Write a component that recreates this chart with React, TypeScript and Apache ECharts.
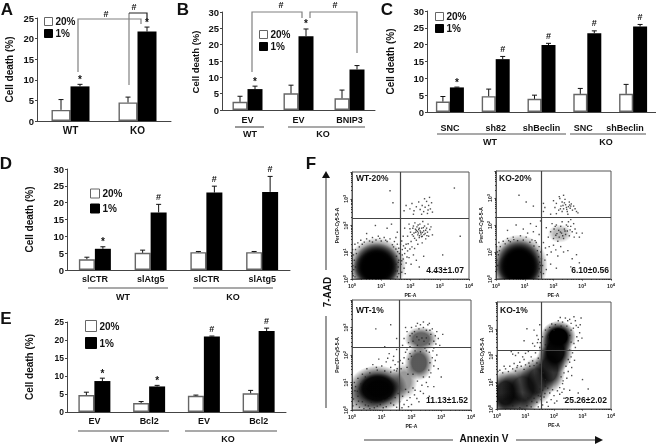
import React, { useEffect, useRef } from "react";
import * as echarts from "echarts";

const FONT = '"Liberation Sans", Arial, sans-serif';
const INK = "#111";

// ---- bar panels: categories, means (%) and upward error amounts ----
const aCategories = ["WT", "KO"];
const aLow = [2.7, 4.5];
const aLowErr = [2.5, 1.3];
const aHigh = [8.4, 21.7];
const aHighErr = [0.5, 1.1];
const aMarks = ["*", "*"];

const bCategories = ["EV", "EV", "BNIP3"];
const bLow = [2.5, 5.1, 3.6];
const bLowErr = [1.7, 2.5, 2.5];
const bHigh = [6.4, 22.6, 12.4];
const bHighErr = [0.9, 2.2, 1.2];
const bMarks = ["*", "*", ""];

const cCategories = ["SNC", "sh82", "shBeclin", "SNC", "shBeclin"];
const cLow = [3.1, 4.7, 3.9, 5.4, 5.4];
const cLowErr = [1.5, 2.1, 1.1, 1.6, 2.8];
const cHigh = [7.3, 15.7, 19.9, 23.4, 25.4];
const cHighErr = [0.1, 0.8, 0.5, 0.7, 0.6];
const cMarks = ["*", "#", "#", "#", "#"];

const dCategories = ["slCTR", "slAtg5", "slCTR", "slAtg5"];
const dLow = [3.2, 5.1, 5.3, 5.3];
const dLowErr = [0.6, 0.8, 0.2, 0.2];
const dHigh = [6.3, 17.1, 23, 23.2];
const dHighErr = [0.6, 2.4, 1.9, 4.6];
const dMarks = ["*", "#", "#", "#"];

const eCategories = ["EV", "Bcl2", "EV", "Bcl2"];
const eLow = [4.7, 2.5, 4.5, 5.2];
const eLowErr = [0.8, 0.4, 0.2, 0.8];
const eHigh = [8.6, 7.1, 21, 22.5];
const eHighErr = [0.8, 0.3, 0.1, 0.8];
const eMarks = ["*", "*", "#", "#"];

// ---- flow panels: log10 intensities ----
const f1Gates = [1.64, 2.28];
const f2Gates = [1.57, 2.3];
const f3Gates = [1.58, 2.28];
const f4Gates = [1.57, 2.2];

// dense regions: [x, y, xRadius, yRadius, density], in decades
const f1Clouds = [[0.85, 0.5, 1.0, 1.05, 0.9], [0.85, 0.55, 0.8, 0.8, 1], [0.8, 0.35, 0.8, 0.7, 1]];
const f2Clouds = [[0.8, 0.5, 1.0, 1.15, 0.9], [0.8, 0.6, 0.8, 0.85, 1], [0.8, 0.35, 0.82, 0.7, 1], [2.22, 1.68, 0.42, 0.34, 0.28]];
const f3Clouds = [[0.86, 0.78, 1.0, 0.85, 0.95], [0.9, 0.78, 0.7, 0.55, 0.9], [0.45, 0.4, 0.75, 0.6, 0.35], [1.75, 1.05, 0.45, 0.65, 0.4], [2.25, 1.72, 0.48, 0.65, 0.65], [2.32, 2.58, 0.55, 0.45, 0.6]];
const f4Clouds = [[0.3, 0.6, 0.6, 0.85, 0.85], [0.9, 0.75, 0.75, 0.9, 0.75], [1.4, 1.05, 0.6, 0.9, 0.75], [1.85, 1.5, 0.55, 0.9, 0.8], [2.05, 2.15, 0.6, 0.8, 0.95], [2.15, 2.7, 0.62, 0.6, 1], [0.6, 0.2, 0.9, 0.45, 0.5]];

const f1Dots = [[1.85,2.75],[1.98,2.62],[2.05,2.82],[2.12,2.55],[2.2,2.7],[2.28,2.88],[2.33,2.6],[2.4,2.75],[2.45,2.52],[2.5,2.68],[2.55,2.9],[2.6,2.58],[2.62,2.75],[2.68,2.62],[2.72,2.85],[2.75,2.5],[2.48,3.0],[2.38,2.42],[2.58,2.45],[2.1,2.42],[2.65,3.05],[1.78,2.55],
[1.8,1.9],[1.9,1.6],[1.95,2.05],[2.0,1.75],[2.02,1.4],[2.08,1.9],[2.1,1.6],[2.15,2.1],[2.18,1.75],[2.2,1.45],[2.22,1.95],[2.25,1.65],[2.28,1.85],[2.3,1.55],[2.32,2.05],[2.35,1.75],[2.38,1.9],[2.4,1.6],[2.42,2.15],[2.45,1.8],[2.48,1.98],[2.5,1.7],[2.52,1.5],[2.55,1.9],[2.58,1.75],[2.6,2.05],[2.62,1.6],[2.66,1.85],[2.7,1.95],[2.25,1.3],[2.05,1.2],[1.85,1.3],[1.75,1.6],[2.4,1.35],[2.75,1.65],[2.3,1.9],[2.36,1.68],[2.44,1.92],[2.2,1.82],[2.27,1.72],[2.33,1.8],[2.41,1.74],[2.12,1.72],[2.17,1.86],[2.52,1.82],[2.24,1.78],[2.31,1.62],[2.38,1.58],[2.46,1.66],[2.14,1.52],[2.06,1.66],[1.98,1.88],[2.1,1.98],[2.26,2.02],[2.56,1.62],
[1.72,1.1],[1.8,0.95],[1.75,0.75],[1.85,0.6],[1.78,0.4],[1.9,1.05],[1.95,0.8],[2.02,0.55],[2.1,0.9],[2.2,0.7],[1.7,0.25],[1.82,0.2],[2.3,0.45],[2.45,0.85],[1.68,0.55],[1.72,0.9],[1.66,1.3],[1.7,1.42],[1.82,1.15],[1.92,1.32],[1.76,1.24],[1.88,0.82],[1.7,0.68],[1.98,1.12],[2.14,1.14],
[0.8,2.0],[1.2,1.9],[1.35,2.05],[1.55,1.75],[1.3,3.3],[1.4,2.85],[3.5,3.4],[3.7,1.6],[1.5,1.55],[0.5,1.7],[3.1,0.9],[2.85,0.25],
[0.02,1.1],[0.1,1.3],[0.2,1.35],[0.3,1.45],[0.5,1.5],[0.7,1.55],[0.9,1.6],[1.1,1.55],[1.3,1.5],[1.45,1.4],[1.55,1.3],[1.6,1.15],[1.62,0.95],[1.6,0.7],[1.58,0.45],[1.6,0.2],[0.03,0.5],[0.02,0.2],[0.12,1.1],[0.35,1.3],[0.6,1.42],[0.82,1.46],[1.0,1.42],[1.2,1.4],[1.38,1.28],[1.5,1.12],[1.52,0.85],[1.5,0.55],[1.48,0.3],[1.55,0.08],[0.08,0.7],[0.06,0.35],[0.05,0.9],[0.15,0.95],[0.04,0.12],[0.25,1.2],[0.42,1.38],[0.7,1.38],[0.95,1.52],[1.15,1.45],[1.42,1.2],[1.56,1.02],[1.58,0.62],[1.55,0.3],[0.12,0.45],[0.1,0.08]];

const f2Dots = [[2.0,2.9],[2.05,2.65],[2.1,2.8],[2.18,2.55],[2.22,2.98],[2.26,2.7],[2.3,2.85],[2.35,2.6],[2.4,2.95],[2.42,2.75],[2.48,2.5],[2.52,2.68],[2.55,2.85],[2.58,2.62],[2.62,2.78],[2.66,2.55],[2.7,2.7],[2.75,2.6],[2.8,2.5],[2.85,2.45],[2.2,3.05],[2.35,3.1],[1.9,2.4],[2.1,2.42],[2.3,2.5],[2.5,2.4],[1.65,2.5],[1.7,2.65],[2.45,2.65],[2.6,2.7],[2.33,2.72],[2.38,2.82],[2.46,2.58],[2.56,2.74],[2.24,2.6],
[1.75,1.9],[1.82,1.55],[1.9,1.75],[1.95,2.05],[2.0,1.5],[2.02,1.85],[2.08,1.62],[2.1,2.0],[2.15,1.4],[2.18,1.8],[2.2,1.55],[2.25,1.95],[2.28,1.7],[2.3,2.12],[2.35,1.5],[2.38,1.85],[2.42,1.65],[2.45,2.0],[2.48,1.78],[2.52,2.12],[2.55,1.6],[2.6,1.95],[2.65,1.75],[2.7,2.05],[2.75,1.85],[2.72,1.55],[2.8,1.7],[2.6,2.2],[2.9,1.55],[3.0,1.7],[2.24,1.74],[2.32,1.6],[2.4,1.78],[2.12,1.68],[2.5,1.95],[2.58,1.82],[2.06,1.95],
[1.65,1.35],[1.72,1.15],[1.78,0.9],[1.7,0.7],[1.85,1.2],[1.92,1.0],[2.0,1.25],[2.08,1.08],[2.15,0.85],[2.25,1.2],[2.35,1.0],[1.62,0.5],[1.75,0.35],[1.9,0.55],[2.1,0.4],[2.5,1.05],[2.65,0.75],[2.8,0.9],[2.6,0.45],[1.65,0.2],[2.9,0.6],
[0.8,3.1],[1.05,2.85],[1.3,2.7],[1.65,2.8],[0.7,2.0],[0.95,1.85],[1.2,2.05],[1.4,1.95],[1.5,1.65],[1.1,1.7],[0.4,1.8],[1.55,2.15],[1.3,1.75],
[0.02,1.2],[0.1,1.35],[0.25,1.4],[0.4,1.5],[0.6,1.55],[0.85,1.6],[1.05,1.55],[1.25,1.45],[1.4,1.35],[1.5,1.2],[1.56,1.0],[1.58,0.75],[1.55,0.5],[1.56,0.25],[0.03,0.7],[0.02,0.35],[0.15,1.2],[0.32,1.3],[0.5,1.38],[0.75,1.42],[0.95,1.44],[1.18,1.36],[1.32,1.22],[1.44,1.05],[1.48,0.82],[1.46,0.55],[1.42,0.3],[1.48,0.1],[0.08,0.9],[0.06,0.5],[0.12,1.05],[0.05,1.0],[1.52,0.62],[1.5,0.38],[1.36,1.42],[0.62,1.46],[0.44,1.42]];

const f3Dots = [[1.75,2.6],[1.85,2.85],[1.9,2.45],[1.95,2.7],[2.0,3.0],[2.05,2.5],[2.1,2.85],[2.15,3.05],[2.2,2.35],[2.25,2.95],[2.3,3.1],[2.4,3.0],[2.45,2.25],[2.5,2.9],[2.55,3.1],[2.6,2.4],[2.65,2.75],[2.7,2.95],[2.75,2.5],[2.8,2.7],[2.85,2.85],[2.9,2.6],[1.7,2.35],[1.85,2.2],[2.95,2.35],[2.4,3.2],[2.6,3.15],[2.2,3.15],[1.8,3.0],[3.05,2.75],[2.25,2.55],[2.35,2.62],[2.42,2.5],[2.5,2.62],[2.18,2.66],[2.02,2.78],[2.62,2.9],[1.95,2.3],[2.75,2.25],[2.82,2.4],
[1.7,1.7],[1.75,1.9],[1.8,2.1],[1.85,1.55],[1.9,1.85],[1.95,2.05],[2.7,1.9],[2.75,1.6],[2.72,2.15],[2.8,1.8],[2.65,1.35],[2.6,1.2],[2.5,1.0],[2.35,0.9],[2.2,1.05],[2.05,0.8],[1.9,0.65],[2.85,2.0],[2.9,1.5],[2.55,0.85],[2.62,1.72],[2.58,1.45],[2.4,1.2],[2.05,1.3],[1.88,1.3],[2.0,1.95],[2.6,2.1],[2.5,2.15],[2.3,2.12],[2.12,2.15],
[1.62,1.8],[1.65,1.5],[1.6,0.3],[1.7,0.5],[1.75,0.2],[1.85,0.35],[1.95,0.45],[2.1,0.55],[2.25,0.3],[2.4,0.6],[2.6,0.5],[1.8,0.75],[2.0,0.2],[2.75,0.85],[3.0,1.2],[2.12,0.72],[2.3,0.68],[2.18,0.42],[1.68,0.08],[1.9,0.12],
[1.55,1.75],[1.45,1.65],[1.3,1.55],[1.15,1.75],[1.4,1.95],[1.25,2.05],[0.9,1.85],[0.7,1.65],[0.5,1.5],[1.0,1.6],[1.5,2.2],[1.1,2.3],[0.8,2.95],[1.3,3.1],[1.5,2.6],[0.35,1.3],[0.2,1.15],[1.38,1.8],[1.2,1.88],[1.52,1.5],[1.42,1.45],[0.82,1.55],
[0.05,0.4],[0.1,0.7],[0.08,1.0],[0.15,0.2],[0.25,0.1],[0.4,0.05],[0.55,0.15],[0.75,0.08],[0.95,0.2],[1.15,0.12],[1.3,0.25],[1.5,0.1],[0.3,0.95],[0.45,1.2],[0.6,1.35],[0.85,1.45],[1.1,1.42],[1.3,1.38],[1.5,1.42],[1.45,0.45],[1.55,0.6],[0.2,0.5],[0.35,0.3],[0.65,0.28],[1.05,0.35],[1.25,0.45],[0.03,0.15],[0.12,0.85],[0.22,0.32],[0.45,0.18],[0.6,0.05],[0.85,0.14],[1.4,0.18],[1.05,0.08],[0.18,0.68],[0.28,0.78]];

const f4Dots = [[2.6,3.2],[2.75,3.3],[2.85,3.05],[2.9,2.85],[2.7,3.45],[2.95,3.4],[2.8,2.7],[2.7,2.45],[2.65,2.1],[2.55,1.75],[2.5,1.4],[2.45,1.15],[2.3,0.95],[2.6,1.95],[2.75,2.3],[2.55,3.35],[2.3,3.25],[2.05,3.15],[1.85,3.05],[1.7,2.95],[1.6,2.7],[2.4,3.4],[2.15,3.3],[2.85,2.55],[2.62,1.55],[2.35,0.75],[2.2,0.8],[2.78,3.12],[2.68,3.02],[2.92,3.15],[1.92,3.18],[2.22,3.42],[2.48,3.3],[2.98,2.65],[2.72,1.82],[2.62,1.25],
[1.05,3.0],[1.3,2.95],[1.4,2.75],[1.5,3.15],[1.45,2.6],[0.95,2.55],[1.25,2.45],[0.5,2.15],[0.55,2.05],[0.65,2.0],[0.75,2.1],[0.9,1.95],[1.0,2.08],[1.1,2.15],[1.2,1.95],[1.35,2.1],[1.45,1.9],[1.5,2.3],[0.95,1.85],[1.25,1.8],[1.4,1.72],[1.52,1.65],[0.8,1.75],[0.6,1.7],[0.45,1.6],[1.32,2.35],[1.42,2.48],[1.52,2.48],[1.12,1.72],[0.72,1.62],
[1.6,0.7],[1.65,0.45],[1.7,0.85],[1.75,0.25],[1.85,0.6],[1.9,0.35],[2.0,0.5],[2.1,0.3],[2.2,0.55],[2.35,0.4],[1.6,0.15],[1.8,0.1],[2.55,0.7],[2.85,0.6],[3.0,1.1],[3.2,0.75],[1.55,0.35],[1.45,0.08],[1.2,0.08],[1.95,0.72],[2.12,0.68],[2.28,0.62],[1.78,0.78],[2.02,0.22],[1.68,0.58],
[0.03,1.4],[0.1,1.45],[0.2,1.35],[0.3,1.5],[0.4,1.4],[0.55,1.5],[0.7,1.55],[0.85,1.6],[1.0,1.65],[1.15,1.6],[1.3,1.62],[0.25,1.6],[0.65,1.42],[0.95,1.48],[1.45,0.5],[1.5,0.75],[1.4,0.25],[1.3,0.4],[1.55,0.95],[1.7,1.1],[1.75,1.0],[2.35,1.35],[2.42,1.6],[2.5,1.85],[2.55,2.2],[2.6,2.5],[2.55,2.75],[2.6,2.95],[2.45,3.1],[2.25,3.1],[2.0,2.95],[1.8,2.7],[1.7,2.4],[1.05,0.12],[0.8,0.05],[0.55,0.12],[1.22,0.28],[1.08,0.42],[1.35,0.62],[1.52,0.48],[1.62,1.35],[1.58,1.15],[2.25,1.2],[2.32,1.05]];

// tick labels of the flow axes
const flowDecades = [1, 10, 100, 1000, 10000];

// ---- layout of each panel on the page ----
const barPanels = [
  { cats: aCategories, low: aLow, lowErr: aLowErr, high: aHigh, highErr: aHighErr, marks: aMarks, max: 25, left: 37, top: 18, w: 134, h: 103, bar: 19, margin: 4, fs: 10, name: "Cell death (%)", nameGap: 23, legendL: 44, legendT: 16.5, legendGap: 2, legendBox: 8 },
  { cats: bCategories, low: bLow, lowErr: bLowErr, high: bHigh, highErr: bHighErr, marks: bMarks, max: 30, left: 222, top: 12, w: 153, h: 98, bar: 15, margin: 5, fs: 9, name: "", nameGap: 0, legendL: 259, legendT: 29.5, legendGap: 2, legendBox: 8 },
  { cats: cCategories, low: cLow, lowErr: cLowErr, high: cHigh, highErr: cHighErr, marks: cMarks, max: 30, left: 427, top: 11, w: 229, h: 101, bar: 14, margin: 11, fs: 9, name: "Cell death (%)", nameGap: 32, legendL: 435, legendT: 11.5, legendGap: 2, legendBox: 8 },
  { cats: dCategories, low: dLow, lowErr: dLowErr, high: dHigh, highErr: dHighErr, marks: dMarks, max: 30, left: 67, top: 169, w: 223, h: 101, bar: 16, margin: 4, fs: 9, name: "Cell death (%)", nameGap: 33, legendL: 90, legendT: 188.5, legendGap: 5, legendBox: 9 },
  { cats: eCategories, low: eLow, lowErr: eLowErr, high: eHigh, highErr: eHighErr, marks: eMarks, max: 25, left: 67, top: 322, w: 219, h: 90, bar: 16, margin: 4, fs: 9, name: "Cell death (%)", nameGap: 33, legendL: 85, legendT: 320, legendGap: 5, legendBox: 11 },
];

const flowPanels = [
  { gates: f1Gates, clouds: f1Clouds, dots: f1Dots, left: 352, top: 172, w: 117, h: 107 },
  { gates: f2Gates, clouds: f2Clouds, dots: f2Dots, left: 496, top: 171, w: 115, h: 108 },
  { gates: f3Gates, clouds: f3Clouds, dots: f3Dots, left: 352, top: 300, w: 119, h: 110 },
  { gates: f4Gates, clouds: f4Clouds, dots: f4Dots, left: 497, top: 302, w: 114, h: 107 },
];

const txt = (text: string, x: number, y: number, fontSize: number, extra: any = {}) => ({
  type: "text",
  x,
  y,
  rotation: extra.rotation || 0,
  silent: true,
  style: { text, x: 0, y: 0, fill: extra.fill || INK, align: extra.align || "center", verticalAlign: "middle", font: `${extra.weight || "bold"} ${fontSize}px ${FONT}` },
});
const pl = (points: number[][], stroke = "#777", lineWidth = 1.2) => ({
  type: "polyline",
  silent: true,
  shape: { points },
  style: { stroke, lineWidth, fill: "none" },
});

const GREY = "#808080";
const graphicElements: any[] = [
  txt("A", 7, 9, 17),
  txt("B", 183, 9, 17),
  txt("C", 387, 9, 17),
  txt("D", 6, 163, 17),
  txt("E", 6, 318, 17),
  txt("F", 311, 163, 17),
  // A brackets
  pl([[78, 72], [78, 19], [141, 19], [141, 24]], GREY),
  pl([[129, 85], [129, 13]], GREY),
  pl([[129, 13], [147, 13], [147, 20]], "#222"),
  txt("#", 106, 14, 9),
  txt("#", 134, 7, 9),
  // B brackets
  pl([[252, 72], [252, 12], [302, 12], [302, 18]], GREY),
  pl([[310, 18], [310, 12], [357, 12], [357, 53]], GREY),
  txt("#", 281, 5, 9),
  txt("#", 335, 5, 9),
  // B group rules and labels
  pl([[235, 127], [264, 127]], "#555"),
  pl([[288, 127], [365, 127]], "#555"),
  txt("WT", 250, 133.5, 9),
  txt("KO", 323, 133.5, 9),
  // C
  pl([[437, 134], [566, 134]], "#555"),
  pl([[570, 134], [646, 134]], "#555"),
  txt("WT", 490, 142, 9),
  txt("KO", 606, 142, 9),
  // D
  pl([[88, 288], [168, 288]], "#555"),
  pl([[193, 288], [273, 288]], "#555"),
  txt("WT", 123, 297, 9),
  txt("KO", 233, 297, 9),
  // E
  pl([[78, 431], [169, 431]], "#555"),
  pl([[185, 431], [277, 431]], "#555"),
  txt("WT", 117, 438.5, 9),
  txt("KO", 228, 438.5, 9),
  // Flow captions
  txt("WT-20%", 356, 178, 8.5, { align: "left" }),
  txt("KO-20%", 499, 178, 8.5, { align: "left" }),
  txt("WT-1%", 356, 310, 8.5, { align: "left" }),
  txt("KO-1%", 500, 310, 8.5, { align: "left" }),
  txt("4.43±1.07", 464, 270, 8.5, { align: "right" }),
  txt("6.10±0.56", 609, 270, 8.5, { align: "right" }),
  txt("11.13±1.52", 468, 400, 8.5, { align: "right" }),
  txt("25.26±2.02", 607, 400, 8.5, { align: "right" }),
  // Axis arrows
  pl([[326, 270], [326, 177]], GREY, 1.6),
  { type: "polygon", silent: true, shape: { points: [[326, 171], [322, 178], [330, 178]] }, style: { fill: "#111" } },
  pl([[326, 316], [326, 408]], GREY, 1.6),
  txt("7-AAD", 327, 292, 10, { rotation: Math.PI / 2 }),
  pl([[364, 440], [453, 440]], GREY, 1.6),
  txt("Annexin V", 484, 438, 10),
  pl([[516, 440], [596, 440]], GREY, 1.6),
  { type: "polygon", silent: true, shape: { points: [[603, 440], [595, 436], [595, 444]] }, style: { fill: "#111" } },
  txt("Cell death (%)", 195, 62, 9.5, { rotation: Math.PI / 2 }),
];

const errorSeries = (panelIndex: number, vals: number[], errs: number[], offsetSign: number, barW: number, marks: string[] | null, cap: number) => ({
  type: "custom",
  xAxisIndex: panelIndex,
  yAxisIndex: panelIndex,
  silent: true,
  clip: false,
  z: 3,
  data: vals.map((v, i) => [i, v, v + errs[i]]),
  renderItem: (params: any, api: any) => {
    const base = api.coord([api.value(0), api.value(1)]);
    const top = api.coord([api.value(0), api.value(2)]);
    const x = base[0] + (offsetSign * barW) / 2;
    const children: any[] = [
      { type: "line", shape: { x1: x, y1: base[1], x2: x, y2: top[1] }, style: { stroke: "#111", lineWidth: 1 } },
      { type: "line", shape: { x1: x - cap, y1: top[1], x2: x + cap, y2: top[1] }, style: { stroke: "#111", lineWidth: 1 } },
    ];
    const mark = marks ? marks[params.dataIndex] : "";
    if (mark) {
      children.push({ type: "text", style: { text: mark, x, y: top[1] - (mark === "*" ? 0 : 3), align: "center", verticalAlign: "bottom", fill: "#111", font: `bold ${mark === "*" ? 10 : 9}px ${FONT}` } });
    }
    return { type: "group", children };
  },
});

function buildOption() {
  const grid: any[] = [];
  const xAxis: any[] = [];
  const yAxis: any[] = [];
  const series: any[] = [];
  const legend: any[] = [];

  barPanels.forEach((p, i) => {
    grid.push({ left: p.left, top: p.top, width: p.w, height: p.h, containLabel: false });
    xAxis.push({
      type: "category",
      gridIndex: i,
      data: p.cats.map((c, k) => {
        if (i === 2 && k === 3) return { value: c, textStyle: { padding: [0, 8, 0, 0] } };
        if (i === 2 && k === 4) return { value: c, textStyle: { padding: [0, 16, 0, 0] } };
        return c;
      }),
      axisLine: { lineStyle: { color: "#444", width: 1 } },
      axisTick: { length: 2, lineStyle: { color: "#444" } },
      axisLabel: { interval: 0, margin: p.margin, fontFamily: FONT, fontWeight: "bold", fontSize: p.fs, color: INK, hideOverlap: false },
    });
    yAxis.push({
      type: "value",
      gridIndex: i,
      min: 0,
      max: p.max,
      interval: 5,
      name: p.name,
      nameLocation: "middle",
      nameGap: p.nameGap,
      nameRotate: 90,
      nameTextStyle: { fontFamily: FONT, fontWeight: "bold", fontSize: 10, color: INK },
      splitLine: { show: false },
      axisLine: { show: true, lineStyle: { color: "#444", width: 1 } },
      axisTick: { show: true, length: 2, lineStyle: { color: "#444" } },
      axisLabel: { margin: 3, fontFamily: FONT, fontWeight: "bold", fontSize: i === 4 ? 8.5 : 9.5, color: INK },
    });
    series.push({
      name: "20%", type: "bar", xAxisIndex: i, yAxisIndex: i, barWidth: p.bar, barGap: 0, silent: true,
      itemStyle: { color: "#fff", borderColor: "#666", borderWidth: 1.4 }, data: p.low,
    });
    series.push({
      name: "1%", type: "bar", xAxisIndex: i, yAxisIndex: i, barWidth: p.bar, barGap: 0, silent: true,
      itemStyle: { color: "#000", borderColor: "#000", borderWidth: 0 }, data: p.high,
    });
    series.push(errorSeries(i, p.low, p.lowErr, -1, p.bar, null, 2.5));
    series.push(errorSeries(i, p.high, p.highErr, 1, p.bar, p.marks, 2.5));
    legend.push({
      data: ["20%", "1%"], orient: "vertical", left: p.legendL, top: p.legendT, padding: 0,
      itemWidth: p.legendBox, itemHeight: p.legendBox, itemGap: p.legendGap, selectedMode: false, icon: "rect",
      textStyle: { fontFamily: FONT, fontWeight: "bold", fontSize: 10, color: INK, padding: [0, 0, 0, -2] },
      itemStyle: { borderWidth: 1 },
    });
  });

  const axisLabelRich = {
    b: { fontFamily: FONT, fontSize: 5, color: "#222", fontWeight: "bold" },
    s: { fontFamily: FONT, fontSize: 4, color: "#222", fontWeight: "bold", padding: [0, 0, 3, 0] },
  };
  const decade = (v: number) => `{b|10}{s|${flowDecades.indexOf(Math.round(v))}}`;

  flowPanels.forEach((p, k) => {
    const i = k + barPanels.length;
    grid.push({ left: p.left, top: p.top, width: p.w, height: p.h, show: true, borderColor: "#555", borderWidth: 1, backgroundColor: "transparent" });
    xAxis.push({
      type: "log", logBase: 10, gridIndex: i, min: 1, max: 10000, name: "PE-A", nameLocation: "middle", nameGap: 13,
      nameTextStyle: { fontFamily: FONT, fontSize: 5, fontWeight: "bold", color: "#222" },
      splitLine: { show: false }, axisLine: { onZero: false, lineStyle: { color: "#555" } },
      axisTick: { length: 1.5, lineStyle: { color: "#333" } }, minorTick: { show: true, splitNumber: 9, length: 1, lineStyle: { color: "#333" } },
      axisLabel: { margin: 3, formatter: decade, rich: axisLabelRich, showMinLabel: true, showMaxLabel: true },
    });
    yAxis.push({
      type: "log", logBase: 10, gridIndex: i, min: 1, max: 10000, name: "PerCP-Cy5-5-A", nameLocation: "middle", nameGap: 13, nameRotate: 90,
      nameTextStyle: { fontFamily: FONT, fontSize: 5, fontWeight: "bold", color: "#222" },
      splitLine: { show: false }, axisLine: { onZero: false, lineStyle: { color: "#555" } },
      axisTick: { length: 1.5, lineStyle: { color: "#333" } }, minorTick: { show: true, splitNumber: 9, length: 1, lineStyle: { color: "#333" } },
      axisLabel: { margin: 3, rotate: 90, formatter: decade, rich: axisLabelRich, showMinLabel: true, showMaxLabel: false },
    });
    series.push({
      type: "custom", xAxisIndex: i, yAxisIndex: i, silent: true, clip: true, z: 2,
      data: p.clouds,
      renderItem: (_: any, api: any) => {
        const [cx, cy, rx, ry, den] = [api.value(0), api.value(1), api.value(2), api.value(3), api.value(4)];
        const c = api.coord([Math.pow(10, cx), Math.pow(10, cy)]);
        const e = api.coord([Math.pow(10, cx + rx), Math.pow(10, cy + ry)]);
        return {
          type: "ellipse",
          shape: { cx: c[0], cy: c[1], rx: Math.abs(e[0] - c[0]), ry: Math.abs(e[1] - c[1]) },
          style: {
            fill: new echarts.graphic.RadialGradient(0.5, 0.5, 0.5, [
              { offset: 0, color: `rgba(0,0,0,${den})` },
              { offset: 0.5, color: `rgba(0,0,0,${den})` },
              { offset: 1, color: "rgba(0,0,0,0)" },
            ]),
          },
        };
      },
    });
    series.push({
      type: "scatter", xAxisIndex: i, yAxisIndex: i, silent: true, symbol: "rect", symbolSize: 1.4, z: 3,
      itemStyle: { color: "#222" },
      data: p.dots.map(([x, y]) => [Math.pow(10, x), Math.pow(10, y)]),
      markLine: {
        silent: true, symbol: "none", label: { show: false }, animation: false,
        lineStyle: { color: "#444", width: 1.2, type: "solid" },
        data: [{ xAxis: Math.pow(10, p.gates[0]) }, { yAxis: Math.pow(10, p.gates[1]) }],
      },
    });
  });

  return { animation: false, backgroundColor: "#fff", grid, xAxis, yAxis, series, legend, graphic: graphicElements };
}

export default function App() {
  const ref = useRef<HTMLDivElement>(null);
  useEffect(() => {
    document.body.style.margin = "0";
    const chart = echarts.init(ref.current!, undefined, { renderer: "svg" });
    chart.setOption(buildOption() as any);
    return () => chart.dispose();
  }, []);
  return <div ref={ref} style={{ width: 656, height: 444, filter: "blur(0.35px)" }} />;
}
